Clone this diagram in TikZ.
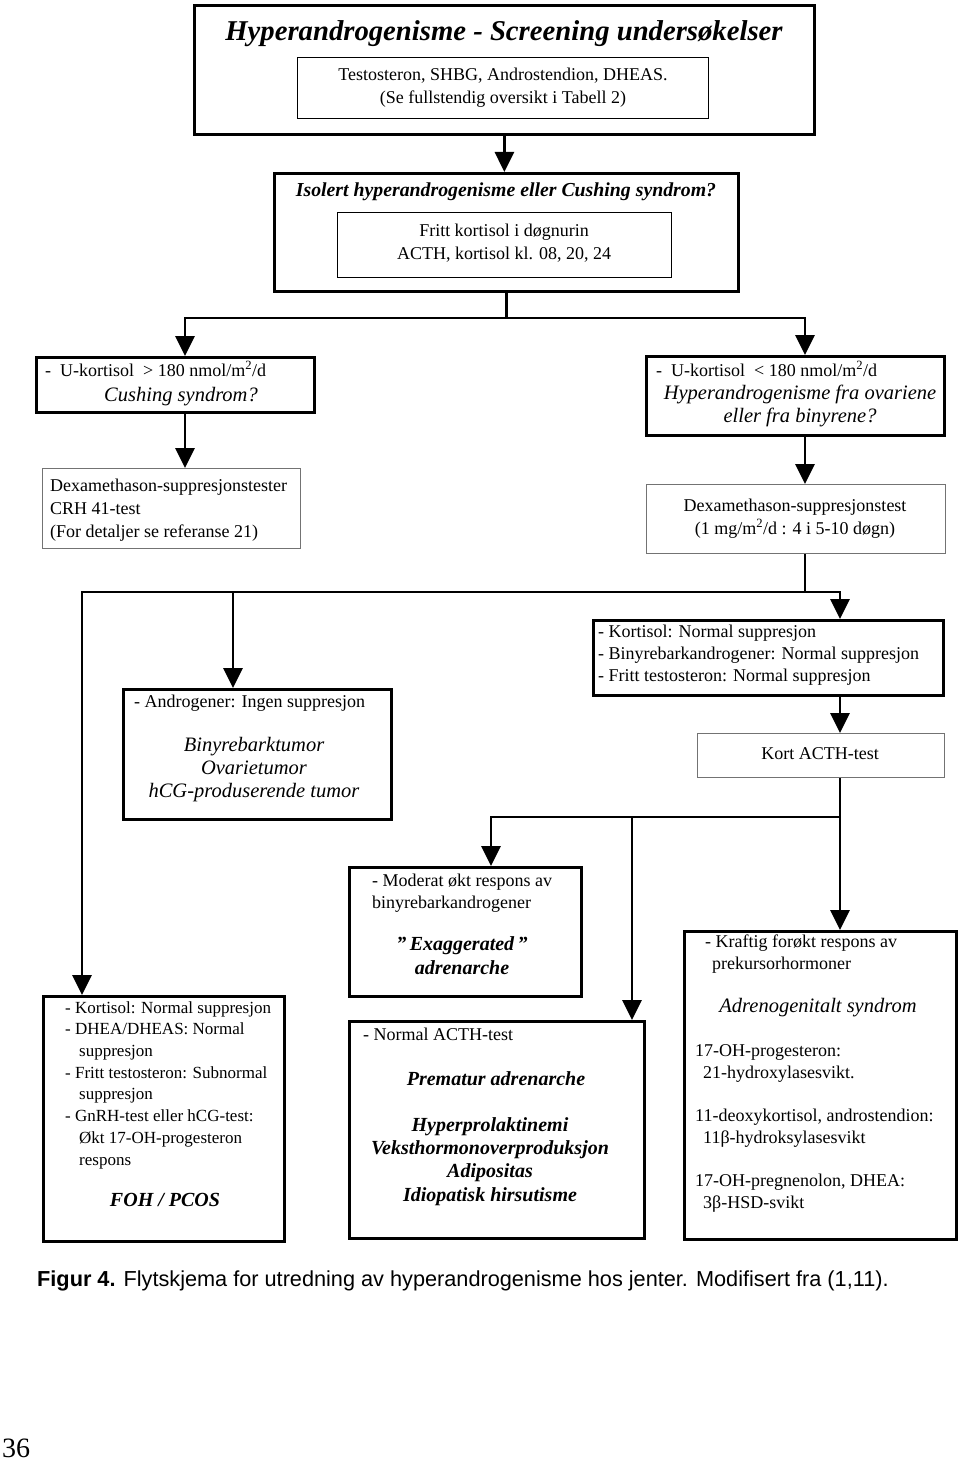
\documentclass[tikz,border=0pt]{standalone}
\usepackage{fontspec}
\setmainfont{Liberation Serif}
\newfontfamily\capfont{Liberation Sans}
\usetikzlibrary{calc}
\usetikzlibrary{arrows.meta}

\begin{document}
\begin{tikzpicture}[x=1pt, y=-1pt,
  thickbox/.style={draw, line width=2.8pt, inner sep=0, anchor=north west},
  midbox/.style={draw, line width=1.3pt, inner sep=0, anchor=north west},
  thinbox/.style={draw=black!55, line width=1pt, inner sep=0, anchor=north west},
  txt/.style={inner sep=0, align=left, anchor=base west, font=\fontsize{18}{21.7}\selectfont},
  ctxt/.style={inner sep=0, align=center, anchor=base, font=\fontsize{18}{23}\selectfont},
  ictxt/.style={ctxt, font=\fontsize{20.5}{23}\selectfont\itshape},
  bictxt/.style={ctxt, font=\fontsize{20}{23.3}\selectfont\bfseries\itshape},
  conn/.style={line width=2.8pt},
  arr/.style={line width=2.8pt, -{Triangle[width=19pt,length=20pt]}}]
\useasboundingbox (0,0) rectangle (960,1463);

% Screening
\node[thickbox, minimum width=620, minimum height=129] (scr) at (193,4) {};
\node[inner sep=0, anchor=base, font=\fontsize{28.7}{32}\selectfont\bfseries\itshape] (scr-title) at (504,41) {Hyperandrogenisme - Screening undersøkelser};
\node[midbox, minimum width=411, minimum height=61] (scr-in) at (297,57) {};
\node[ctxt] (scr-in-t) at (503,104) {Testosteron, SHBG, Androstendion, DHEAS.\\(Se fullstendig oversikt i Tabell 2)};

% Isolert eller Cushing
\node[thickbox, minimum width=464, minimum height=118] (iso) at (273,172) {};
\node[inner sep=0, anchor=base, font=\fontsize{19.8}{24}\selectfont\bfseries\itshape] (iso-title) at (506,197) {Isolert hyperandrogenisme eller Cushing syndrom?};
\node[midbox, minimum width=334, minimum height=65] (iso-in) at (337,212) {};
\node[ctxt] (iso-in-t) at (504,259) {Fritt kortisol i døgnurin\\ACTH, kortisol kl. 08, 20, 24};

% U-kortisol
\node[thickbox, minimum width=278, minimum height=55] (ucush) at (35,356) {};
\node[txt] (ucush-t) at (45,376) {-\ \ U-kortisol\ \ > 180 nmol/m\textsuperscript{2}/d};
\node[ictxt] (ucush-i) at (181,401) {Cushing syndrom?};
\node[thickbox, minimum width=298, minimum height=79] (ukort) at (645,355) {};
\node[txt] (ukort-t) at (656,376) {-\ \ U-kortisol\ \ < 180 nmol/m\textsuperscript{2}/d};
\node[ictxt] (ukort-i) at (800,422) {Hyperandrogenisme fra ovariene\\eller fra binyrene?};

% Dexamethason
\node[thinbox, minimum width=258, minimum height=80] (dexl) at (42,468) {};
\node[txt, font=\fontsize{18}{23}\selectfont] (dexl-t) at (50,537) {Dexamethason-suppresjonstester\\CRH 41-test\\(For detaljer se referanse 21)};
\node[thinbox, minimum width=299, minimum height=69] (dexr) at (646,484) {};
\node[ctxt] (dexr-t) at (795,534) {Dexamethason-suppresjonstest\\(1 mg/m\textsuperscript{2}/d : 4 i 5-10 døgn)};

% Suppresjon
\node[thickbox, minimum width=350, minimum height=75] (kort) at (592,619) {};
\node[txt] (kort-t) at (598,681) {- Kortisol: Normal suppresjon\\- Binyrebarkandrogener: Normal suppresjon\\- Fritt testosteron: Normal suppresjon};
\node[thickbox, minimum width=268, minimum height=130] (andr) at (122,688) {};
\node[txt] (andr-t) at (134,707) {- Androgener: Ingen suppresjon};
\node[ictxt] (andr-i) at (254,797) {Binyrebarktumor\\Ovarietumor\\hCG-produserende tumor};
\node[thinbox, minimum width=247, minimum height=44] (acth) at (697,733) {};
\node[ctxt] (acth-t) at (820,759) {Kort ACTH-test};

% ACTH-respons
\node[thickbox, minimum width=232, minimum height=129] (mod) at (348,866) {};
\node[txt] (mod-t) at (372,908) {- Moderat økt respons av\\binyrebarkandrogener};
\node[bictxt] (mod-i) at (462,974) {"\,Exaggerated\,"\\adrenarche};
\node[thickbox, minimum width=272, minimum height=308] (kraft) at (683,930) {};
\node[txt] (kraft-t) at (705,969) {- Kraftig forøkt respons av\\\hspace*{7pt}prekursorhormoner};
\node[ictxt] (kraft-i) at (818,1012) {Adrenogenitalt syndrom};
\node[txt] (kraft-a) at (695,1078) {17-OH-progesteron:\\\hspace*{8pt}21-hydroxylasesvikt.};
\node[txt] (kraft-b) at (695,1143) {11-deoxykortisol, androstendion:\\\hspace*{8pt}11β-hydroksylasesvikt};
\node[txt] (kraft-c) at (695,1208) {17-OH-pregnenolon, DHEA:\\\hspace*{8pt}3β-HSD-svikt};

% FOH / PCOS
\node[thickbox, minimum width=241, minimum height=245] (bl) at (42,995) {};
\node[txt, font=\fontsize{17}{21.7}\selectfont] (bl-t) at (65,1165) {- Kortisol: Normal suppresjon\\- DHEA/DHEAS: Normal\\\hspace*{14pt}suppresjon\\- Fritt testosteron: Subnormal\\\hspace*{14pt}suppresjon\\- GnRH-test eller hCG-test:\\\hspace*{14pt}Økt 17-OH-progesteron\\\hspace*{14pt}respons};
\node[bictxt] (bl-i) at (165,1206) {FOH / PCOS};

% Normal ACTH
\node[thickbox, minimum width=295, minimum height=217] (norm) at (348,1020) {};
\node[txt] (norm-t) at (363,1040) {- Normal ACTH-test};
\node[bictxt] (norm-i) at (496,1085) {Prematur adrenarche};
\node[bictxt] (norm-j) at (490,1201) {Hyperprolaktinemi\\Veksthormonoverproduksjon\\Adipositas\\Idiopatisk hirsutisme};

% arrows
\coordinate (j1l) at (185,318);
\coordinate (j1r) at (805,318);
\coordinate (j2a) at (82,592);
\coordinate (j2b) at (233,592);
\coordinate (j2c) at (840,592);
\coordinate (j3a) at (491,817);
\coordinate (j3b) at (632,817);
\coordinate (j3) at (840,817);

\draw[arr] (scr.south) -- (scr.south |- iso.north);
\draw[arr] (iso.south) |- (j1l) -- (j1l |- ucush.north);
\draw[arr] (iso.south) |- (j1r) -- (j1r |- ukort.north);
\draw[arr] (j1l |- ucush.south) -- (j1l |- dexl.north);
\draw[arr] (j1r |- ukort.south) -- (j1r |- dexr.north);
\draw[arr] (j1r |- dexr.south) |- (j2a) -- (j2a |- bl.north);
\draw[arr] (j1r |- dexr.south) |- (j2c) -- (j2c |- kort.north);
\draw[arr] (j2b) -- (j2b |- andr.north);
\draw[arr] (j2c |- kort.south) -- (j2c |- acth.north);
\draw[arr] (j2c |- acth.south) -- (j2c |- kraft.north);
\draw[arr] (j3) -- (j3a) -- (j3a |- mod.north);
\draw[arr] (j3b) -- (j3b |- norm.north);

% caption
\node[inner sep=0, anchor=base west, font=\capfont\fontsize{21.7}{26}\selectfont] (cap) at (37,1286) {\textbf{Figur 4.} Flytskjema for utredning av hyperandrogenisme hos jenter. Modifisert fra (1,11).};
\node[inner sep=0, anchor=base west, font=\fontsize{28}{30}\selectfont] (pg) at (2,1457) {36};
\end{tikzpicture}
\end{document}
